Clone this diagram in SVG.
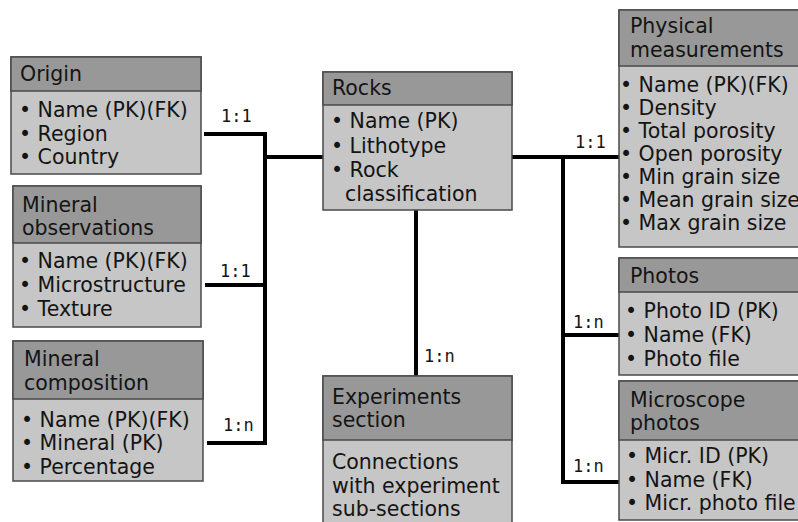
<svg xmlns="http://www.w3.org/2000/svg" width="798" height="522" viewBox="0 0 798 522">
<style>
.body{fill:#c6c6c6;stroke:#4a4a4a;stroke-width:1.5}
.head{fill:#989898;stroke:#4a4a4a;stroke-width:1.5}
text{font-family:"DejaVu Sans","Noto Sans",sans-serif;font-size:20.5px;fill:#141414}
.lbl{font-family:"DejaVu Sans Mono","Liberation Mono",monospace;font-size:17px;fill:#141414}
.conn{fill:none;stroke:#000;stroke-width:4;stroke-linejoin:miter}
</style>
<rect width="798" height="522" fill="#fff"/>
<g id="connectors">
<polyline class="conn" points="204,134 265,134 265,443 207,443"/>
<line class="conn" x1="205" y1="285" x2="265" y2="285"/>
<line class="conn" x1="265" y1="157" x2="323" y2="157"/>
<line class="conn" x1="512" y1="157" x2="619" y2="157"/>
<polyline class="conn" points="563,157 563,482 619,482"/>
<line class="conn" x1="563" y1="335" x2="619" y2="335"/>
<line class="conn" x1="416" y1="210" x2="416" y2="376"/>
<text class="lbl" x="221" y="122">1:1</text>
<text class="lbl" x="220" y="277">1:1</text>
<text class="lbl" x="223" y="431">1:n</text>
<text class="lbl" x="424" y="362">1:n</text>
<text class="lbl" x="575" y="148">1:1</text>
<text class="lbl" x="573" y="328">1:n</text>
<text class="lbl" x="573" y="472">1:n</text>
</g>
<g id="origin">
<rect class="body" x="11" y="57" width="190" height="117"/>
<rect class="head" x="11" y="57" width="190" height="34"/>
<text x="20" y="81">Origin</text>
<text x="19" y="117">• Name (PK)(FK)</text>
<text x="19" y="141">• Region</text>
<text x="19" y="164">• Country</text>
</g>
<g id="mineral-observations">
<rect class="body" x="13" y="186" width="188" height="141"/>
<rect class="head" x="13" y="186" width="188" height="57"/>
<text x="22" y="212">Mineral</text>
<text x="22" y="235">observations</text>
<text x="19" y="268">• Name (PK)(FK)</text>
<text x="19" y="292">• Microstructure</text>
<text x="19" y="316">• Texture</text>
</g>
<g id="mineral-composition">
<rect class="body" x="13" y="341" width="190" height="140"/>
<rect class="head" x="13" y="341" width="190" height="58"/>
<text x="24" y="366">Mineral</text>
<text x="24" y="390">composition</text>
<text x="21" y="427">• Name (PK)(FK)</text>
<text x="21" y="450">• Mineral (PK)</text>
<text x="21" y="474">• Percentage</text>
</g>
<g id="rocks">
<rect class="body" x="323" y="72" width="189" height="138"/>
<rect class="head" x="323" y="72" width="189" height="33"/>
<text x="332" y="95">Rocks</text>
<text x="331" y="128">• Name (PK)</text>
<text x="331" y="153">• Lithotype</text>
<text x="331" y="177">• Rock</text>
<text x="345" y="201">classification</text>
</g>
<g id="experiments-section">
<rect class="body" x="323" y="376" width="189" height="152"/>
<rect class="head" x="323" y="376" width="189" height="64"/>
<text x="332" y="404">Experiments</text>
<text x="332" y="427">section</text>
<text x="332" y="469">Connections</text>
<text x="332" y="493">with experiment</text>
<text x="332" y="516">sub-sections</text>
</g>
<g id="physical-measurements">
<rect class="body" x="619" y="10" width="186" height="237"/>
<rect class="head" x="619" y="10" width="186" height="56"/>
<text x="630" y="33">Physical</text>
<text x="630" y="57">measurements</text>
<text x="620" y="92">• Name (PK)(FK)</text>
<text x="620" y="115">• Density</text>
<text x="620" y="138">• Total porosity</text>
<text x="620" y="161">• Open porosity</text>
<text x="620" y="184">• Min grain size</text>
<text x="620" y="207">• Mean grain size</text>
<text x="620" y="230">• Max grain size</text>
</g>
<g id="photos">
<rect class="body" x="619" y="258" width="186" height="117"/>
<rect class="head" x="619" y="258" width="186" height="34"/>
<text x="630" y="283">Photos</text>
<text x="625" y="318">• Photo ID (PK)</text>
<text x="625" y="342">• Name (FK)</text>
<text x="625" y="366">• Photo file</text>
</g>
<g id="microscope-photos">
<rect class="body" x="619" y="381" width="186" height="139"/>
<rect class="head" x="619" y="381" width="186" height="59"/>
<text x="630" y="407">Microscope</text>
<text x="630" y="430">photos</text>
<text x="626" y="463">• Micr. ID (PK)</text>
<text x="626" y="487">• Name (FK)</text>
<text x="626" y="510">• Micr. photo file</text>
</g>
</svg>
